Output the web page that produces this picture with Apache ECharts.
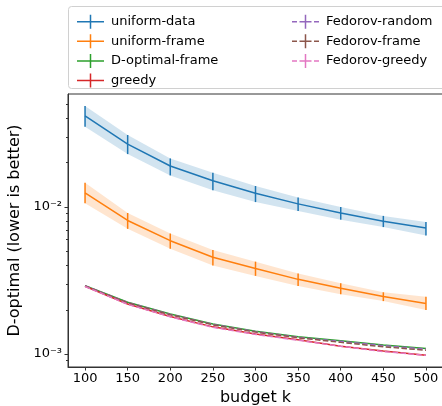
<!DOCTYPE html>
<html>
<head>
<meta charset="utf-8">
<script src="https://cdn.jsdelivr.net/npm/echarts@6/dist/echarts.min.js"></script>
<style>
  html, body { margin: 0; padding: 0; background: #fff; }
  #main { width: 442px; height: 406px; }
</style>
</head>
<body>
<div id="main"></div>
<script>
var budgets = [100, 150, 200, 250, 300, 350, 400, 450, 500];

var uniformData = [0.0416, 0.0268, 0.0190, 0.0151, 0.0124, 0.0105, 0.0091, 0.0080, 0.0072];
var uniformDataLo = [0.0352, 0.0229, 0.0164, 0.0130, 0.0108, 0.0094, 0.0082, 0.0073, 0.0064];
var uniformDataHi = [0.0486, 0.0309, 0.0214, 0.0171, 0.0139, 0.0116, 0.0100, 0.0087, 0.0079];

var uniformFrame = [0.0125, 0.0081, 0.0059, 0.00455, 0.00382, 0.00322, 0.0028, 0.00246, 0.00221];
var uniformFrameLo = [0.0106, 0.0071, 0.0052, 0.0040, 0.0034, 0.0029, 0.00255, 0.00229, 0.00199];
var uniformFrameHi = [0.0146, 0.0091, 0.0066, 0.0051, 0.00425, 0.00353, 0.00303, 0.00263, 0.00245];

var dOptimalFrame = [0.00292, 0.00225, 0.00187, 0.0016, 0.00143, 0.00131, 0.00123, 0.00115, 0.00109];
var greedy = [0.00289, 0.00219, 0.0018, 0.00153, 0.00137, 0.00125, 0.00113, 0.00105, 0.00098];
var fedorovRandom = [0.00291, 0.00224, 0.00186, 0.00159, 0.00142, 0.0013, 0.00122, 0.00114, 0.00108];
var fedorovFrame = [0.0029, 0.00223, 0.00185, 0.00158, 0.00141, 0.00129, 0.0012, 0.00112, 0.00106];
var fedorovGreedy = [0.00288, 0.00218, 0.00179, 0.00152, 0.00136, 0.00124, 0.00113, 0.00104, 0.00098];

var xTicks = [100, 150, 200, 250, 300, 350, 400, 450, 500];
var yMajor = [0.001, 0.01];
var yMinor = [0.0009, 0.002, 0.003, 0.004, 0.005, 0.006, 0.007, 0.008, 0.009, 0.02, 0.03, 0.04, 0.05];

var FONT = 'DejaVu Sans';
var solidIcon = 'path://M0,6.25h27v1.5h-27z M12.75,0h1.5v14h-1.5z';
var dashIcon = 'path://M0,6.25h5v1.5h-5z M7.5,6.25h3.5v1.5h-3.5z M12.75,0h1.5v14h-1.5z M11,6.25h5v1.5h-5z M16,6.25h3.5v1.5h-3.5z M22,6.25h5v1.5h-5z';

function pairs(ys) {
    return budgets.map(function (x, i) { return [x, ys[i]]; });
}
function triples(lo, hi) {
    return budgets.map(function (x, i) { return [x, lo[i], hi[i]]; });
}

function lineSeries(name, ys, color, dashed) {
    return {
        name: name,
        type: 'line',
        data: pairs(ys),
        symbol: 'none',
        itemStyle: { color: color },
        lineStyle: { color: color, width: 1.5, type: dashed ? [5.5, 2.4] : 'solid' },
        z: 3
    };
}

function bandSeries(name, lo, hi, color) {
    return {
        name: name,
        type: 'custom',
        data: triples(lo, hi),
        encode: { x: 0, y: [1, 2] },
        clip: true,
        z: 1,
        silent: true,
        renderItem: function (params, api) {
            if (params.dataIndex !== 0) return;
            var pts = [];
            for (var i = 0; i < budgets.length; i++) pts.push(api.coord([budgets[i], hi[i]]));
            for (var j = budgets.length - 1; j >= 0; j--) pts.push(api.coord([budgets[j], lo[j]]));
            return { type: 'polygon', shape: { points: pts }, style: { fill: color, opacity: 0.2 } };
        }
    };
}

function errSeries(name, lo, hi, color) {
    return {
        name: name,
        type: 'custom',
        data: triples(lo, hi),
        encode: { x: 0, y: [1, 2] },
        z: 4,
        silent: true,
        renderItem: function (params, api) {
            var a = api.coord([api.value(0), api.value(1)]);
            var b = api.coord([api.value(0), api.value(2)]);
            return { type: 'line', shape: { x1: a[0], y1: a[1], x2: b[0], y2: b[1] },
                     style: { stroke: color, lineWidth: 1.5 } };
        }
    };
}

var chart = echarts.init(document.getElementById('main'));

var legendText = { fontFamily: FONT, fontSize: 13, color: '#000', padding: [0, 0, 0, 2] };

var option = {
    animation: false,
    backgroundColor: '#fff',
    grid: { left: 68, top: 94, right: -1, bottom: 39, outerBoundsMode: 'none', containLabel: false,
            show: true, borderColor: '#333', borderWidth: 1 },
    graphic: [{
        type: 'rect', z: 100,
        shape: { x: 68.5, y: 6.5, width: 400, height: 82, r: 3 },
        style: { fill: 'rgba(255,255,255,0.8)', stroke: '#d0d0d0', lineWidth: 1 }
    }],
    legend: [{
        left: 72, top: 9.7, orient: 'vertical', z: 101,
        itemWidth: 27, itemHeight: 14, itemGap: 5.6,
        icon: solidIcon,
        itemStyle: { borderWidth: 0 },
        textStyle: legendText,
        data: ['uniform-data', 'uniform-frame', 'D-optimal-frame', 'greedy']
    }, {
        left: 287, top: 9.7, orient: 'vertical', z: 101,
        itemWidth: 27, itemHeight: 14, itemGap: 5.6,
        icon: dashIcon,
        itemStyle: { borderWidth: 0 },
        textStyle: legendText,
        data: ['Fedorov-random', 'Fedorov-frame', 'Fedorov-greedy']
    }],
    xAxis: {
        type: 'value', min: 80, max: 520,
        name: 'budget k', nameLocation: 'middle', nameGap: 20,
        nameTextStyle: { fontFamily: FONT, fontSize: 16, color: '#000' },
        axisLine: { lineStyle: { color: '#333', width: 1 } },
        axisTick: { customValues: xTicks, length: 3.5, lineStyle: { color: '#333' } },
        axisLabel: { customValues: xTicks, margin: 5, fontFamily: FONT, fontSize: 13, color: '#000' },
        splitLine: { show: false }
    },
    yAxis: [{
        type: 'log', logBase: 10, min: 0.000816, max: 0.0587,
        name: 'D-optimal (lower is better)', nameLocation: 'middle', nameGap: 37,
        nameTextStyle: { fontFamily: FONT, fontSize: 16, color: '#000' },
        axisLine: { show: true, lineStyle: { color: '#333', width: 1 } },
        axisTick: { show: true, customValues: yMajor, length: 3.5, lineStyle: { color: '#333' } },
        axisLabel: {
            customValues: yMajor, margin: 6, fontFamily: FONT, fontSize: 13, color: '#000',
            formatter: function (v) { return v < 0.005 ? '10\u207B\u00B3' : '10\u207B\u00B2'; }
        },
        splitLine: { show: false }
    }, {
        type: 'log', logBase: 10, min: 0.000816, max: 0.0587, position: 'left',
        axisLine: { show: false },
        axisTick: { show: true, customValues: yMinor, length: 2, lineStyle: { color: '#333' } },
        axisLabel: { show: false },
        splitLine: { show: false }
    }],
    series: [
        lineSeries('uniform-data', uniformData, '#1f77b4', false),
        lineSeries('uniform-frame', uniformFrame, '#ff7f0e', false),
        lineSeries('D-optimal-frame', dOptimalFrame, '#2ca02c', false),
        lineSeries('greedy', greedy, '#d62728', false),
        lineSeries('Fedorov-random', fedorovRandom, '#9467bd', true),
        lineSeries('Fedorov-frame', fedorovFrame, '#8c564b', true),
        lineSeries('Fedorov-greedy', fedorovGreedy, '#e377c2', true),
        bandSeries('uniform-data', uniformDataLo, uniformDataHi, '#1f77b4'),
        errSeries('uniform-data', uniformDataLo, uniformDataHi, '#1f77b4'),
        bandSeries('uniform-frame', uniformFrameLo, uniformFrameHi, '#ff7f0e'),
        errSeries('uniform-frame', uniformFrameLo, uniformFrameHi, '#ff7f0e')
    ]
};
chart.setOption(option);
</script>
</body>
</html>
